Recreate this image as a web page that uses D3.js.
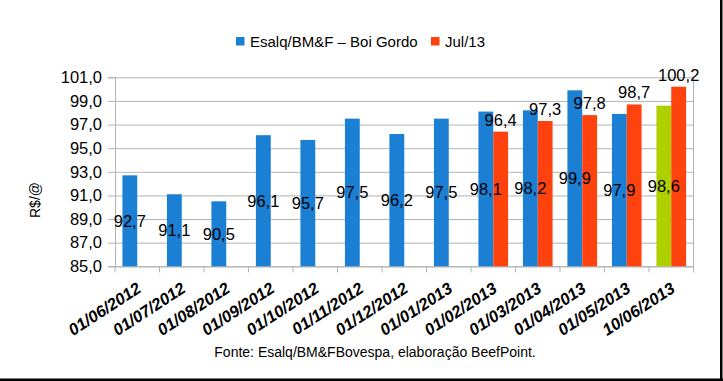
<!DOCTYPE html>
<html>
<head>
<meta charset="utf-8">
<script src="https://cdn.jsdelivr.net/npm/d3@7"></script>
<style>
  html, body { margin: 0; padding: 0; background: #fff; }
  svg { display: block; }
  text { font-family: "Liberation Sans", Arial, sans-serif; }
</style>
</head>
<body>
<svg id="chart" width="723" height="381"></svg>
<script>
const categories = ["01/06/2012","01/07/2012","01/08/2012","01/09/2012","01/10/2012","01/11/2012","01/12/2012","01/01/2013","01/02/2013","01/03/2013","01/04/2013","01/05/2013","10/06/2013"];
const esalq = [92.7, 91.1, 90.5, 96.1, 95.7, 97.5, 96.2, 97.5, 98.1, 98.2, 99.9, 97.9, 98.6];
const jul13 = [null, null, null, null, null, null, null, null, 96.4, 97.3, 97.8, 98.7, 100.2];
const yTicks = [85, 87, 89, 91, 93, 95, 97, 99, 101];
const seriesNames = ["Esalq/BM&F \u2013 Boi Gordo", "Jul/13"];
const colors = { blue: "#1b7fd3", red: "#ff420e", green: "#aecf00" };

const svg = d3.select("#chart");
const pL = 115, pR = 693.5, pT = 77.3, pB = 266.3;

const x0 = d3.scaleBand().domain(categories).range([pL, pR]).paddingInner(1/3).paddingOuter(1/6);
const x1 = d3.scaleBand().domain([0, 1]).range([0, x0.bandwidth()]);
const y = d3.scaleLinear().domain([85, 101]).range([pB, pT]);
const fmt = v => d3.format(".1f")(v).replace(".", ",");

// border (right & bottom)
svg.append("rect").attr("x", 720).attr("y", 0).attr("width", 2.5).attr("height", 381).attr("fill", "#000");
svg.append("rect").attr("x", 0).attr("y", 378.5).attr("width", 723).attr("height", 2.5).attr("fill", "#000");

// y axis with gridlines
const gy = svg.append("g").attr("transform", `translate(${pL},0)`)
  .call(d3.axisLeft(y).tickValues(yTicks).tickSize(7).tickPadding(6).tickFormat(fmt));
gy.select(".domain").attr("stroke", "#b3b3b3");
gy.selectAll(".tick line").attr("stroke", "#b3b3b3").attr("x1", pR - pL);
gy.selectAll(".tick text").attr("font-size", "16.5px").attr("fill", "#000")
  .style("font-family", "'Liberation Sans', Arial, sans-serif");

// right edge line
svg.append("line").attr("x1", pR).attr("x2", pR).attr("y1", pT).attr("y2", pB + 6)
  .attr("stroke", "#b3b3b3");

// x axis
const gx = svg.append("g").attr("transform", `translate(0,${pB})`)
  .call(d3.axisBottom(x0).tickSize(0).tickPadding(0));
gx.select(".domain").attr("stroke", "#b3b3b3").attr("d", `M${pL},0.5H${pR}`);
gx.selectAll(".tick text")
  .attr("font-size", "16.5px").attr("font-weight", "bold").attr("font-style", "italic").attr("fill", "#000")
  .style("font-family", "'Liberation Sans', Arial, sans-serif")
  .attr("text-anchor", "end").attr("x", null).attr("y", null).attr("dy", null)
  .attr("transform", "translate(5,25) rotate(-33)");

// boundary ticks
const half = x0.step() * x0.paddingInner() / 2;
const bounds = categories.map(c => x0(c) - half).concat([pR]);
svg.append("g").selectAll("line").data(bounds).join("line")
  .attr("x1", d => d).attr("x2", d => d).attr("y1", pB).attr("y2", pB + 6)
  .attr("stroke", "#b3b3b3");

// bars series 1
const g = svg.append("g");
g.selectAll(".b1").data(categories).join("rect")
  .attr("x", c => x0(c) + x1(0)).attr("width", x1.bandwidth())
  .attr("y", (c, i) => y(esalq[i])).attr("height", (c, i) => y(85) - y(esalq[i]))
  .attr("fill", (c, i) => i === categories.length - 1 ? colors.green : colors.blue);

// bars series 2
const redIdx = categories.map((c, i) => i).filter(i => jul13[i] != null);
g.selectAll(".b2").data(redIdx).join("rect")
  .attr("x", i => x0(categories[i]) + x1(1)).attr("width", x1.bandwidth())
  .attr("y", i => y(jul13[i])).attr("height", i => y(85) - y(jul13[i]))
  .attr("fill", colors.red);

// labels series 1 (centered in bar)
g.selectAll(".l1").data(categories).join("text")
  .attr("x", c => x0(c) + x1(0) + x1.bandwidth() / 2)
  .attr("y", (c, i) => (y(esalq[i]) + y(85)) / 2)
  .attr("dy", "0.36em").attr("text-anchor", "middle").attr("font-size", "16.5px").attr("fill", "#000")
  .text((c, i) => fmt(esalq[i]));

// labels series 2 (above bar)
g.selectAll(".l2").data(redIdx).join("text")
  .attr("x", i => x0(categories[i]) + x1(1) + x1.bandwidth() / 2)
  .attr("y", i => y(jul13[i]) - 6)
  .attr("text-anchor", "middle").attr("font-size", "16.5px").attr("fill", "#000")
  .text(i => fmt(jul13[i]));

// y-axis title
svg.append("text").attr("transform", "translate(40,200) rotate(-90)")
  .attr("text-anchor", "middle").attr("font-size", "14px").attr("fill", "#000").text("R$/@");

// legend
const lg = svg.append("g");
lg.append("rect").attr("x", 236).attr("y", 37).attr("width", 8.5).attr("height", 8.5).attr("fill", colors.blue);
lg.append("text").attr("x", 250).attr("y", 47).attr("font-size", "15px").attr("fill", "#000")
  .attr("xml:space", "preserve").text(seriesNames[0]);
lg.append("rect").attr("x", 431).attr("y", 37).attr("width", 8.5).attr("height", 8.5).attr("fill", colors.red);
lg.append("text").attr("x", 445).attr("y", 47).attr("font-size", "15px").attr("fill", "#000").text(seriesNames[1]);

// footer
svg.append("text").attr("x", 375).attr("y", 357).attr("text-anchor", "middle")
  .attr("font-size", "14px").attr("fill", "#000")
  .text("Fonte: Esalq/BM&FBovespa, elaboração BeefPoint.");
</script>
</body>
</html>
